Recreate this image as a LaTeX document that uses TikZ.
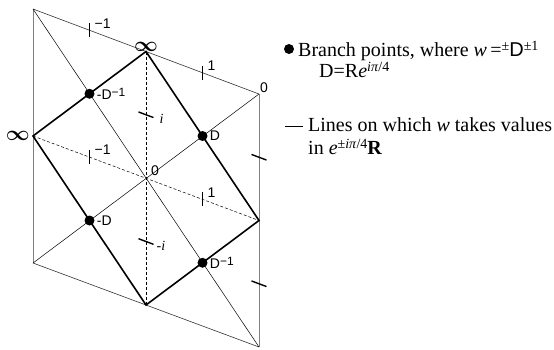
\documentclass[tikz,border=0pt]{standalone}
\usepackage{fontspec}
\setmainfont{Liberation Serif}
\setsansfont{Liberation Sans}
\usepackage{amsmath}
\usetikzlibrary{positioning, calc}
\newcommand{\up}[1]{\raisebox{0.5ex}{\fontsize{12}{12}\selectfont #1}}
\newcommand{\keyup}[1]{\raisebox{0.55ex}{\fontsize{14}{14}\selectfont #1}}

\begin{document}
\begin{tikzpicture}[x=1pt, y=-1pt,
    rim/.style={line width=0.6pt, black!80},
    side/.style={line width=0.6pt, black!50},
    diag/.style={line width=0.5pt},
    cut/.style={line width=1.6pt},
    axis/.style={line width=0.5pt, dash pattern=on 3pt off 2pt},
    mark tick/.style={line width=1.4pt},
    branch/.style={circle, fill=black, inner sep=0pt, minimum size=10pt},
    lab/.style={font=\sffamily\fontsize{14}{14}\selectfont, inner sep=1pt},
    ilab/.style={font=\fontsize{14}{14}\selectfont\itshape, inner sep=1pt},
    inf/.style={font=\fontsize{21}{21}\selectfont, inner sep=1pt},
    key/.style={font=\fontsize{20}{20}\selectfont, inner sep=0pt}]
    \useasboundingbox (0,0) rectangle (554,349);

    % Corners of the sheet
    \coordinate (tl) at (33,9);
    \coordinate (tr) at (259,94);
    \coordinate (bl) at (33,263);
    \coordinate (br) at (259,347);
    \coordinate (c) at ($(tl)!0.5!(br)$);
    \coordinate (tm) at ($(tl)!0.5!(tr)$);
    \coordinate (bm) at ($(bl)!0.5!(br)$);
    \coordinate (lm) at ($(tl)!0.5!(bl)$);
    \coordinate (rm) at ($(tr)!0.5!(br)$);

    % Outline and diagonals
    \draw[rim] (tl) -- (tr);
    \draw[rim] (bl) -- (br);
    \draw[side] (tl) -- (bl);
    \draw[side] (tr) -- (br);
    \draw[diag] (tl) -- (br);
    \draw[diag] (bl) -- (tr);
    \draw[axis] (tm) -- (bm);
    \draw[axis] (lm) -- (rm);

    % Bold lines
    \draw[cut] (tm) -- (lm) -- (bm) -- (rm) -- cycle;

    % Ticks on the slanted lines
    \foreach \p/\q/\t in {tl/tm/{−1}, tm/tr/1, lm/c/{−1}, c/rm/1} {
        \coordinate (m) at ($(\p)!0.5!(\q)$);
        \draw[mark tick] ($(m)+(0,-7)$) coordinate (mtop) -- ($(m)+(0,7)$);
        \node[lab, anchor=west] at ($(mtop)+(4,0)$) {\t};
    }
    % Ticks on the upright lines
    \draw[mark tick] ($($(tm)!0.5!(c)$)+(-7.5,-2.8)$) -- ($($(tm)!0.5!(c)$)+(7.5,2.8)$) coordinate (ti);
    \node[ilab, anchor=west] at ($(ti)+(5,1)$) {i};
    \draw[mark tick] ($($(c)!0.5!(bm)$)+(-7.5,-2.8)$) -- ($($(c)!0.5!(bm)$)+(7.5,2.8)$) coordinate (tmi);
    \node[ilab, anchor=west] at ($(tmi)+(2,1.5)$) {\upshape-\itshape i};
    \draw[mark tick] ($($(tr)!0.5!(rm)$)+(-7.5,-2.8)$) -- ($($(tr)!0.5!(rm)$)+(7.5,2.8)$);
    \draw[mark tick] ($($(rm)!0.5!(br)$)+(-7.5,-2.8)$) -- ($($(rm)!0.5!(br)$)+(7.5,2.8)$);

    % Special values
    \node[inf, above=-1pt of tm] (inftop) {$\boldsymbol{\infty}$};
    \node[inf, left=2pt of lm] (infleft) {$\boldsymbol{\infty}$};
    \node[lab, above right=0pt of tr] (zerotr) {0};
    \node[lab, above right=1pt and 4pt of c] (zeroc) {0};

    % Branch points
    \node[branch] (mdinv) at ($(tm)!0.5!(lm)$) {};
    \node[branch] (d) at ($(tm)!0.5!(rm)$) {};
    \node[branch] (md) at ($(lm)!0.5!(bm)$) {};
    \node[branch] (dinv) at ($(bm)!0.5!(rm)$) {};
    \node[lab, right=1pt of mdinv] {-D\up{−1}};
    \node[lab, right=1pt of d] {D};
    \node[lab, right=1pt of md] {-D};
    \node[lab, right=1pt of dinv] {D\up{−1}};

    % Key
    \node[branch] (keydot) at (289,49) {};
    \node[key, anchor=base west] (keyone) at (298,56) {Branch points, where \textit{w}\,=\keyup{±}\textsf{D}\keyup{±1}};
    \node[key, anchor=base west] (keytwo) at (319,77) {D=R\textit{e}\keyup{\textit{iπ}/4}};
    \coordinate (keyl) at (285,126);
    \coordinate (keyr) at (303,126);
    \draw[line width=0.8pt] (keyl) -- (keyr);
    \node[key, anchor=base west] (keythree) at (308,131) {Lines on which \textit{w} takes values};
    \node[key, anchor=base west] (keyfour) at (308,154) {in \textit{e}\keyup{±\textit{iπ}/4}\textbf{R}};
\end{tikzpicture}
\end{document}
